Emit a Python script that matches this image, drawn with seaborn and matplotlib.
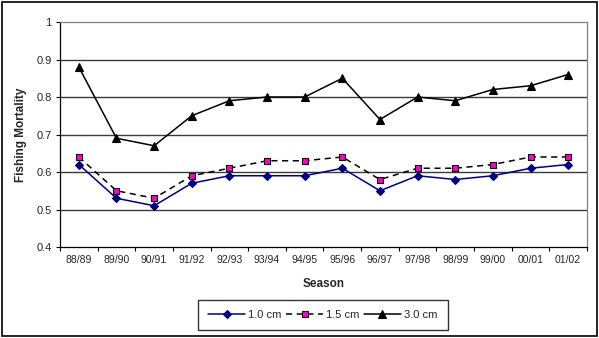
import matplotlib
matplotlib.use("Agg")
import matplotlib.pyplot as plt
import seaborn as sns
import pandas as pd
from matplotlib.patches import Rectangle

seasons = ["88/89", "89/90", "90/91", "91/92", "92/93", "93/94", "94/95",
           "95/96", "96/97", "97/98", "98/99", "99/00", "00/01", "01/02"]
f_10cm = [0.62, 0.53, 0.51, 0.57, 0.59, 0.59, 0.59, 0.61, 0.55, 0.59, 0.58, 0.59, 0.61, 0.62]
f_15cm = [0.64, 0.55, 0.53, 0.59, 0.61, 0.63, 0.63, 0.64, 0.58, 0.61, 0.61, 0.62, 0.64, 0.64]
f_30cm = [0.88, 0.69, 0.67, 0.75, 0.79, 0.80, 0.80, 0.85, 0.74, 0.80, 0.79, 0.82, 0.83, 0.86]
series_names = ["1.0 cm", "1.5 cm", "3.0 cm"]
y_ticks = [0.4, 0.5, 0.6, 0.7, 0.8, 0.9, 1.0]
y_ticklabels = ["0.4", "0.5", "0.6", "0.7", "0.8", "0.9", "1"]

sns.set_theme(style="white")
plt.rcParams['font.family'] = ['Liberation Sans', 'DejaVu Sans']

df = pd.DataFrame({
    "x": list(range(len(seasons))) * 3,
    "value": f_10cm + f_15cm + f_30cm,
    "series": [series_names[0]] * len(seasons) + [series_names[1]] * len(seasons) + [series_names[2]] * len(seasons),
})

fig = plt.figure(figsize=(5.99, 3.38), dpi=100)
ax = fig.add_axes([60/599, (338-247)/338, (587-60)/599, (247-22)/338])

styles = {
    "1.0 cm": dict(color="#000080", marker="D", mfc="#000080", mec="#000080", ms=4, ls="-"),
    "1.5 cm": dict(color="black", marker="s", mfc="#ff00cc", mec="black", ms=5, ls=(0, (4, 3))),
    "3.0 cm": dict(color="black", marker="^", mfc="black", mec="black", ms=5.5, ls="-"),
}
for name in series_names:
    sub = df[df["series"] == name]
    st = styles[name]
    sns.lineplot(data=sub, x="x", y="value", ax=ax, color=st["color"], marker=st["marker"],
                 markerfacecolor=st["mfc"], markeredgecolor=st["mec"], markersize=st["ms"],
                 linestyle=st["ls"], linewidth=1.1, label=name, markeredgewidth=0.8)

ax.set_xlim(-0.5, len(seasons) - 0.5)
ax.set_ylim(0.4, 1.0)
ax.set_yticks(y_ticks)
ax.set_yticklabels(y_ticklabels, fontsize=8)
ax.set_xticks(range(len(seasons)))
ax.set_xticklabels(seasons, fontsize=7.5)
ax.tick_params(axis="x", length=0, pad=6)
ax.tick_params(axis="y", length=3, width=0.8, direction="out", left=True, pad=3, color="black")
# tick marks between categories
ax.set_xticks([i - 0.5 for i in range(len(seasons) + 1)], minor=True)
ax.tick_params(axis="x", which="minor", length=3, width=0.8, direction="out", bottom=True, color="black")

for y in y_ticks[1:-1]:
    ax.axhline(y, color="#3a3a3a", lw=1.0, zorder=0)

for s in ["left", "bottom"]:
    ax.spines[s].set_color("black")
    ax.spines[s].set_linewidth(0.9)
for s in ["top", "right"]:
    ax.spines[s].set_color("#808080")
    ax.spines[s].set_linewidth(0.9)

ax.set_xlabel("Season", fontsize=8.5, fontweight="bold", labelpad=9)
ax.set_ylabel("Fishing Mortality", fontsize=8.5, fontweight="bold", labelpad=7)

ax.legend(loc="center", bbox_to_anchor=(323/599, 1 - 315/338), bbox_transform=fig.transFigure,
          ncol=3, frameon=True, fancybox=False, edgecolor="black", fontsize=8,
          handlelength=3.3, columnspacing=0.4, handletextpad=0.3, borderpad=0.9)

fig.patches.append(Rectangle((2/599, 2/338), 595/599, 334/338, transform=fig.transFigure,
                             fill=False, edgecolor="black", linewidth=1.2))

fig.savefig("out.png", dpi=100)
